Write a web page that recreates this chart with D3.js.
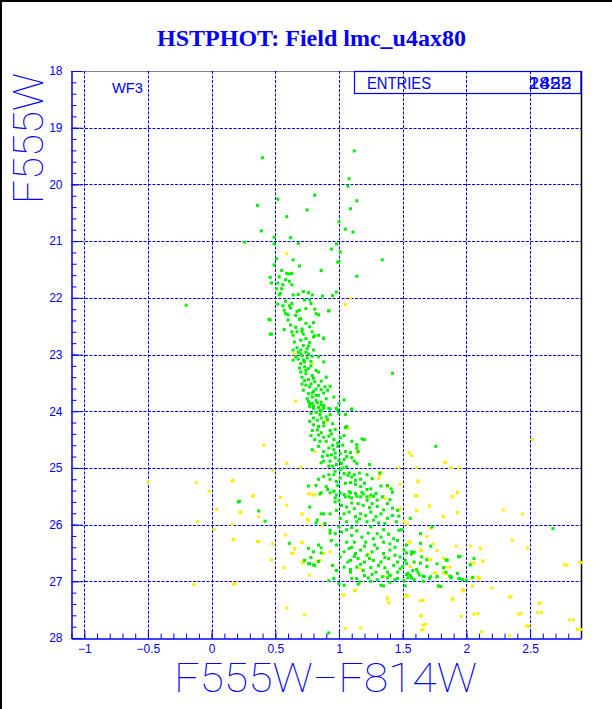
<!DOCTYPE html>
<html>
<head>
<meta charset="utf-8">
<script src="https://cdn.jsdelivr.net/npm/d3@7"></script>
<style>
  html, body { margin: 0; padding: 0; background: #fff; }
  svg { display: block; }
</style>
</head>
<body>
<script>
// ---------------- DATA ----------------
const title = "HSTPHOT: Field lmc_u4ax80";
const xLabel = "F555W\u2212F814W";
const yLabel = "F555W";
const chipLabel = "WF3";
const entriesLabel = "ENTRIES";
const entriesValues = ["1822", "2455"];
const xTicks = [-1, -0.5, 0, 0.5, 1, 1.5, 2, 2.5];
const xTickLabels = ["\u22121", "\u22120.5", "0", "0.5", "1", "1.5", "2", "2.5"];
const yTicks = [18, 19, 20, 21, 22, 23, 24, 25, 26, 27, 28];
const xDomain = [-1.1, 2.9];
const yDomain = [18, 28];

// green stars: [F555W-F814W, F555W]
const greenStars = [
[0.40,19.53],[1.12,19.41],[1.08,19.9],[1.07,20.03],[0.52,20.26],[0.81,20.19],[0.36,20.37],[1.14,20.29],[1.09,20.43],[0.75,20.45],[0.59,20.57],[1.0,20.66],[0.39,20.82],[1.05,20.79],[1.11,20.84],[0.62,20.94],[0.49,20.93],[0.26,21.02],[0.49,21.05],[0.68,21.04],[0.98,21.05],[0.94,21.14],[1.01,21.19],[0.51,21.31],[1.34,21.33],[0.64,21.33],[0.99,21.37],[0.49,21.42],[0.69,21.44],[0.86,21.52],[1.14,21.62],[-0.2,22.13],
[0.55,21.52],[0.59,21.57],[0.61,21.58],[0.63,21.57],[0.46,21.64],[0.53,21.63],[0.58,21.68],[0.61,21.71],[0.47,21.74],[0.52,21.74],[0.56,21.77],[0.63,21.77],[0.51,21.84],[0.55,21.84],[0.54,21.92],[0.53,21.95],[0.64,21.95],[0.68,21.94],[0.72,21.89],[0.76,21.91],[0.79,21.95],[0.87,21.97],[0.95,21.96],[0.98,21.9],
[0.73,22.04],[0.77,22.04],[0.58,22.06],[0.63,22.10],[0.52,22.11],[0.56,22.14],[0.61,22.14],[0.57,22.22],[0.62,22.18],[0.67,22.24],[0.69,22.22],[0.74,22.19],[0.81,22.2],[0.92,22.23],[0.78,22.1],[0.82,22.28],[0.60,22.3],[0.66,22.31],[0.70,22.37],[0.84,22.3],[0.6,22.39],[0.46,22.39],[0.69,22.38],[0.8,22.44],[0.77,22.51],[0.71,22.55],[0.57,22.56],[0.47,22.64],[0.64,22.66],[0.63,22.6],[0.67,22.6],[0.71,22.59],[0.79,22.6],[0.84,22.66],[0.88,22.72],[0.80,22.69],[0.70,22.75],[0.65,22.78],[0.77,22.79],[0.67,22.88],[0.72,22.84],[0.75,22.9],[0.80,22.92],[0.68,22.96],[0.70,22.92],[0.74,22.96],[0.76,22.99],[0.66,23.04],[0.71,23.02],[0.75,23.06],[0.79,23.03],[0.84,23.04],[0.64,23.10],[0.73,23.13],[0.70,23.16],[0.88,23.13],[0.73,23.22],[0.76,23.25],[0.82,23.28],[0.7,23.31],[0.74,23.34],[0.79,23.37],[0.84,23.31],[0.90,23.4],[0.71,23.4],[0.76,23.44],[0.81,23.48],[0.86,23.47],[0.71,23.52],[0.74,23.54],[0.77,23.57],[0.82,23.61],[0.89,23.57],[0.93,23.56],[0.72,23.63],[0.76,23.69],[0.79,23.68],[0.84,23.72],[0.88,23.68],[0.91,23.63],[0.75,23.78],[0.79,23.75],[0.82,23.81],[0.86,23.84],[0.96,23.75],[1.0,23.87],[0.77,23.87],[0.80,23.91],[0.84,23.93],[0.88,23.9],[0.93,23.96],[0.98,23.95],[1.04,23.8],[1.0,21.37],[0.45,22.38],[0.46,22.64],[0.92,22.23],[0.88,22.71],[0.81,22.67],[1.42,23.33],
[0.68,23.08],[0.72,23.1],[0.78,23.12],[0.69,23.24],[0.78,23.2],[0.74,23.28],[0.8,23.42],[0.73,23.46],[0.78,23.52],[0.84,23.55],[0.8,23.65],[0.86,23.62],[0.82,23.72],[0.9,23.78],[0.85,23.98],[0.74,22.72],[0.62,22.48],[0.66,22.52],[0.74,22.45],[0.58,22.28],[0.72,22.64],[0.76,22.85],[0.64,22.92],[0.7,22.99],
[0.76,23.83],[0.79,23.86],[0.83,23.85],[0.86,23.89],[0.77,23.92],[0.80,23.95],[0.88,23.95],[0.92,23.95],[0.99,23.98],[1.1,23.96],
[0.78,24.04],[0.82,24.02],[0.85,24.06],[0.8,24.12],[0.86,24.12],[0.93,24.06],[1.0,24.04],[1.05,24.06],[0.77,24.18],[0.83,24.16],[0.88,24.2],[0.91,24.15],
[0.8,24.24],[0.84,24.27],[0.88,24.26],[0.83,24.33],[0.79,24.34],[0.93,24.34],[0.97,24.32],[1.06,24.27],
[0.78,24.43],[0.84,24.42],[0.88,24.46],[0.92,24.44],[0.96,24.5],[1.01,24.47],[1.1,24.53],[1.04,24.43],[0.85,24.53],[0.9,24.53],[0.81,24.5],[1.14,24.59],[1.18,24.49],
[0.79,24.68],[0.84,24.62],[0.88,24.71],[0.92,24.65],[0.96,24.68],[0.99,24.62],[0.97,24.74],[1.01,24.75],[1.05,24.71],[1.09,24.73],[0.91,24.78],[0.94,24.77],[0.87,24.8],[1.1,24.82],[1.12,24.88],[1.14,24.92],[1.04,24.85],[0.88,24.88],[0.93,24.88],[0.97,24.82],[1.0,24.87],[0.98,24.94],[0.92,24.97],[0.95,24.97],[1.24,24.94],[0.86,24.91],
[1.01,25.03],[1.03,25.0],[1.08,25.09],[1.07,25.13],[0.97,25.06],[0.92,25.12],[0.88,25.15],[0.84,25.2],[0.93,25.2],[1.01,25.18],[1.1,25.16],[1.12,25.12],[1.16,25.09],[1.17,25.2],[1.22,25.12],[1.26,25.19],
[0.76,25.32],[0.82,25.31],[0.9,25.33],[0.99,25.31],[1.05,25.27],[1.09,25.26],[1.13,25.29],[1.17,25.33],[1.22,25.38],[1.25,25.37],[1.33,25.32],[1.41,25.37],[0.86,25.44],[0.91,25.38],[0.96,25.41],[1.04,25.47],[1.09,25.44],[1.18,25.43],[1.22,25.51],[1.27,25.5],[0.97,25.53],[1.08,25.51],[1.14,25.5],[1.76,24.62],
[1.1,23.97],[1.05,24.29],[1.14,24.65],[1.2,24.5],[1.15,24.71],[1.32,25.09],[1.38,25.31],[1.42,25.43],[1.42,25.71],[1.47,25.85],[1.49,26.09],[1.53,26.5],[1.94,26.56],[2.03,26.71],
[0.86,24.0],[0.9,24.1],[0.95,24.22],[0.86,24.38],[0.94,24.4],[0.99,24.56],[0.95,24.6],[1.03,24.6],[1.06,24.8],[1.02,24.92],[1.06,24.98],[0.96,25.12],[1.04,25.1],[1.13,25.22],[0.98,25.24],[1.2,25.27],
[0.96,25.41],[0.98,25.48],[1.01,25.44],[1.05,25.51],[1.08,25.42],[1.1,25.53],[1.13,25.45],[1.17,25.51],[1.15,25.63],[1.19,25.66],[1.22,25.57],[1.25,25.48],[1.26,25.63],[1.3,25.68],[1.34,25.51],[1.38,25.63],[1.4,25.56],[1.46,25.75],[0.97,25.6],[1.02,25.66],[1.06,25.69],[1.12,25.72],[1.19,25.46],[1.29,25.45],[1.3,25.57],[0.85,25.46],[0.86,25.81],[0.83,25.92],[0.93,25.44],
[0.98,25.75],[1.04,25.81],[1.08,25.78],[1.13,25.86],[1.17,25.81],[1.21,25.84],[1.25,25.78],[1.29,25.86],[1.33,25.81],[1.38,25.89],[1.42,25.84],[1.45,25.95],[1.14,25.95],[1.06,25.95],[1.22,25.95],[1.31,25.97],[1.01,25.89],[0.93,25.81],[0.89,25.98],[0.82,25.97],[0.77,25.69],[0.88,25.81],
[0.93,26.1],[0.97,26.16],[1.02,26.13],[1.06,26.09],[1.1,26.19],[1.14,26.11],[1.18,26.22],[1.23,26.15],[1.27,26.25],[1.3,26.16],[1.35,26.09],[1.39,26.17],[1.43,26.25],[1.47,26.1],[1.12,26.31],[1.06,26.31],[1.21,26.31],[1.35,26.31],[1.4,26.34],[1.46,26.28],[0.94,26.28],[0.98,26.36],[0.84,26.36],[0.8,26.48],[0.76,26.42],[1.57,26.48],[1.51,26.45],
[1.04,26.48],[1.08,26.42],[1.13,26.51],[1.17,26.45],[1.22,26.54],[1.26,26.48],[1.3,26.42],[1.35,26.51],[1.4,26.45],[1.44,26.54],[1.48,26.57],[1.01,26.57],[1.09,26.63],[1.15,26.6],[1.2,26.66],[1.27,26.63],[1.33,26.66],[1.39,26.6],[1.46,26.66],[1.52,26.63],[1.59,26.66],[1.65,26.57],[1.85,26.63],[1.94,26.57],[1.77,26.69],[0.73,26.63],[0.77,26.69],[0.81,26.72],[0.98,26.81],[0.95,26.72],
[1.04,26.75],[1.09,26.79],[1.14,26.75],[1.19,26.81],[1.25,26.76],[1.29,26.84],[1.36,26.76],[1.38,26.84],[1.4,26.89],[1.46,26.84],[1.48,26.78],[1.54,26.86],[1.58,26.81],[1.63,26.89],[1.67,26.92],[1.71,26.95],[1.77,26.92],[1.84,26.84],[1.88,26.94],[1.93,26.86],[1.97,26.97],[1.14,26.95],[1.23,26.94],[1.3,26.97],[1.38,26.94],[1.46,26.95],[1.54,26.94],[1.59,26.97],[1.1,26.95],[0.96,26.95],[1.04,27.07],[1.15,27.05],[1.4,27.02],[1.51,26.99],
[0.22,25.59],[0.42,25.94],[0.61,26.33],[0.78,26.58],[0.84,26.65],[0.8,26.71],[0.76,26.69],[0.86,26.5],[0.86,26.41],[0.93,26.15],[0.98,26.81],[0.92,26.99],[1.0,27.04],[1.09,26.84],[1.16,27.01],[1.25,27.0],[1.35,27.08],[1.4,26.9],[1.56,26.9],[1.66,27.0],[1.77,26.92],[1.87,26.91],[1.95,26.95],[2.0,26.98],[1.64,26.16],
[2.68,26.07],[2.06,26.6],[2.05,26.93],[1.8,27.09],[1.94,26.95],[1.88,26.92],[1.82,26.76],[1.95,26.56],[1.84,26.62],[1.73,26.04],[1.53,26.36],[1.57,26.52],[1.59,26.49],[1.64,26.68],[1.69,26.62],[1.53,26.69],[1.61,26.79],[1.66,26.91],[1.72,26.92],[1.53,26.88],[1.57,26.94],[1.69,26.74],[1.72,26.38],[1.64,26.33],[1.56,25.89],
[0.92,27.91],[1.52,27.08],[1.78,27.08],[1.33,27.07],[0.21,25.6],[0.37,25.76],
[1.0,25.58],[1.1,25.62],[1.24,25.7],[1.35,25.74],[1.16,25.9],[1.27,25.92],[1.36,25.98],[1.0,26.04],[1.1,26.05],[1.25,26.04],[1.33,26.22],[1.2,26.38],[1.28,26.36],[1.44,26.4],[1.1,26.4],[1.12,26.56],[1.24,26.6],[1.36,26.58],[1.31,26.72],[1.43,26.72],[1.17,26.7],[1.07,26.66],[1.5,26.74],[1.62,26.84],[1.34,26.92],[1.44,26.97],[1.2,26.9],[1.26,26.88]
];

// yellow stars: [F555W-F814W, F555W]
const yellowStars = [
[0.59,21.22],[1.09,22.01],[1.05,22.12],[0.65,22.99],[0.79,23.15],[0.66,23.82],[0.9,24.18],[1.07,24.3],[1.14,24.73],[0.81,24.71],[1.14,24.65],[1.33,25.08],[1.32,25.13],[1.31,25.19],[1.48,25.29],[1.62,25.23],[1.38,25.33],[0.77,25.45],[0.8,25.47],[0.59,24.92],[1.55,24.73],[1.57,24.78],[1.83,24.9],[1.61,25.0],[1.47,25.0],[0.7,24.99],[1.35,25.51],[1.61,25.49],
[0.76,25.46],[0.81,25.48],[1.24,25.51],[1.36,25.54],[1.48,25.72],[1.61,25.5],[1.71,25.68],[1.89,25.51],[1.93,25.44],[1.93,25.79],[1.82,25.86],[1.61,25.76],[0.71,25.82],[0.75,25.91],[0.65,26.42],[0.71,26.32],[0.63,26.51],[1.51,25.95],[1.54,26.0],[1.72,26.07],[1.56,26.31],[1.64,26.45],[1.69,26.6],[0.88,26.51],[0.85,26.63],[0.71,26.66],[0.93,26.48],[1.23,26.52],[1.35,26.91],[1.17,26.78],[1.56,26.74],[1.84,26.75],[2.03,26.38],[2.11,26.42],[2.06,26.68],[2.13,26.64],[2.1,26.97],[1.75,26.85],
[0.17,25.22],[0.23,25.78],[0.33,25.49],[0.54,25.52],[0.59,25.66],[0.48,25.05],[0.41,24.6],[0.17,26.26],[0.37,26.3],[0.48,26.34],[0.58,26.18],[0.47,26.62],[0.65,26.43],[0.64,26.51],[0.57,26.76],[0.71,26.31],[0.72,26.68],[0.76,25.92],[0.71,25.81],[0.87,26.01],[0.83,26.65],[0.77,26.89],[0.18,27.04],[1.04,27.24],[1.13,27.16],[1.38,27.29],[1.53,27.25],[1.89,27.3],[1.98,27.16],[2.05,27.08],[2.09,26.93],[1.79,27.1],[1.82,26.85],[1.87,26.75],
[2.52,24.5],[1.84,24.91],[1.88,25.0],[1.94,25.0],[1.62,25.25],[1.6,25.49],[1.93,25.43],[1.89,25.5],[1.71,25.67],[1.61,25.75],[1.82,25.86],[1.93,25.79],[2.29,25.74],[2.44,25.81],[2.36,26.28],[2.48,26.41],[2.79,26.71],[2.9,26.67],[2.13,26.65],[2.11,26.42],[1.69,26.21],[1.74,26.34],[1.55,26.3],[1.65,26.46],[1.72,26.62],[1.77,26.46],[1.92,26.38],[1.82,26.59],[1.84,26.87],[1.76,26.85],[2.1,26.93],[1.97,27.15],[2.2,27.12],[2.35,27.27],[2.58,27.38],[1.89,27.33],[1.54,27.26],[1.66,27.34],[2.09,27.57],[2.43,27.57],[2.59,27.55],[2.84,27.68],[1.96,27.62],[1.65,27.61],[1.68,27.76],[2.49,27.79],[2.9,27.85],[1.66,27.85],
[-0.14,27.06],[0.17,27.05],[0.59,27.47],[0.73,27.59],[1.05,27.83],[1.17,27.82],[1.03,27.24],[1.12,27.17],[1.38,27.31],[1.39,27.38],[1.52,27.26],[1.64,27.34],[1.64,27.61],[1.66,27.77],[1.65,27.86],[2.06,27.58],[2.34,27.28],[2.41,27.58],[2.47,27.79],[2.34,27.96],[2.57,27.39],[2.56,27.55],[2.81,27.68],[2.87,27.85],[2.77,26.71],[2.89,26.67],[2.12,27.89],[1.97,27.17],[2.04,26.68],[2.04,26.95],[0.47,26.62],
[-0.5,25.25],[-0.12,25.26],[0.16,25.23],[-0.02,25.41],[0.32,25.5],[0.04,25.73],[0.22,25.79],[0.37,25.86],[-0.11,25.95],[0.16,26.0],[0.02,26.08],[0.17,26.27],[0.36,26.3]
];

// ---------------- DRAWING ----------------
const W = 612, H = 709;
const BLUE = "#0000ff";
const svg = d3.select("body").append("svg").attr("width", W).attr("height", H)
  .style("background", "#fff");

// outer border (left + top)
svg.append("line").attr("x1", 1).attr("x2", 1).attr("y1", 0).attr("y2", H).attr("stroke", "#000").attr("stroke-width", 2);
svg.append("line").attr("x1", 0).attr("x2", W).attr("y1", 1).attr("y2", 1).attr("stroke", "#000").attr("stroke-width", 2);

const x = d3.scaleLinear().domain(xDomain).range([71.5, 581]);
const y = d3.scaleLinear().domain(yDomain).range([71, 638]);

// title
svg.append("text").attr("x", 311.5).attr("y", 46).attr("text-anchor", "middle")
  .attr("font-family", "'Liberation Serif', 'Times New Roman', serif").attr("font-weight", "bold")
  .attr("font-size", 24).attr("fill", BLUE).text(title);

// grid
const grid = svg.append("g").attr("stroke", BLUE).attr("stroke-width", 1).attr("stroke-dasharray", "3,1.5");
grid.selectAll("line.h").data(yTicks.filter(v => v > yDomain[0] && v < yDomain[1])).join("line")
  .attr("x1", x.range()[0]).attr("x2", x.range()[1])
  .attr("y1", d => Math.round(y(d)) + 0.5).attr("y2", d => Math.round(y(d)) + 0.5);
grid.selectAll("line.v").data(xTicks).join("line")
  .attr("y1", y.range()[0]).attr("y2", y.range()[1])
  .attr("x1", d => Math.round(x(d)) + 0.5).attr("x2", d => Math.round(x(d)) + 0.5);

// top (dotted) and right frame
svg.append("line").attr("x1", x.range()[0]).attr("x2", x.range()[1]).attr("y1", 71.5).attr("y2", 71.5)
  .attr("stroke", "#000040").attr("stroke-dasharray", "1,1");
svg.append("line").attr("x1", 581.5).attr("x2", 581.5).attr("y1", 71).attr("y2", 638.5)
  .attr("stroke", "#000").attr("stroke-width", 1.5);

// ENTRIES box
svg.append("rect").attr("x", 354.5).attr("y", 71.5).attr("width", 581 - 354.5).attr("height", 22)
  .attr("fill", "none").attr("stroke", BLUE).attr("stroke-width", 1.2);
svg.append("text").attr("x", 367).attr("y", 88.5).attr("font-family", "'Liberation Sans', Arial, sans-serif")
  .attr("font-size", 16).attr("fill", BLUE).attr("textLength", 64).attr("lengthAdjust", "spacingAndGlyphs").text(entriesLabel);
entriesValues.forEach(v => {
  svg.append("text").attr("x", 528.5).attr("y", 88.5).attr("font-family", "'Liberation Sans', Arial, sans-serif")
    .attr("font-size", 16).attr("fill", BLUE).attr("textLength", 43).attr("lengthAdjust", "spacingAndGlyphs").text(v);
});

// chip label
svg.append("text").attr("x", 112).attr("y", 93).attr("font-family", "'Liberation Sans', Arial, sans-serif")
  .attr("font-size", 15).attr("fill", BLUE).attr("textLength", 31).attr("lengthAdjust", "spacingAndGlyphs").text(chipLabel);

// points
const sz = 3;
svg.append("g").selectAll("rect").data(yellowStars).join("rect")
  .attr("x", d => x(d[0]) - sz / 2).attr("y", d => y(d[1]) - sz / 2)
  .attr("width", sz).attr("height", sz).attr("fill", "#ffee00");
svg.append("g").selectAll("rect").data(greenStars).join("rect")
  .attr("x", d => x(d[0]) - sz / 2).attr("y", d => y(d[1]) - sz / 2)
  .attr("width", sz).attr("height", sz).attr("fill", "#00ee00");

// axes
const yMinor = d3.range(18, 28.001, 0.2).map(v => +v.toFixed(1));
const xMinor = d3.range(-1.1, 2.9001, 0.1).map(v => +v.toFixed(1));

const yAxisG = svg.append("g").attr("transform", "translate(71.5,0)").attr("color", BLUE)
  .call(d3.axisLeft(y).tickValues(yTicks).tickSize(-11).tickSizeOuter(0).tickPadding(9).tickFormat(d3.format("d")));
const yMinorG = svg.append("g").attr("transform", "translate(71.5,0)").attr("color", BLUE)
  .call(d3.axisLeft(y).tickValues(yMinor).tickSize(-5).tickSizeOuter(0).tickFormat(""));
yMinorG.select(".domain").remove();
yMinorG.selectAll("text").remove();

const xAxisG = svg.append("g").attr("transform", "translate(0,638.5)").attr("color", BLUE)
  .call(d3.axisBottom(x).tickValues(xTicks).tickSize(-8).tickSizeOuter(0).tickPadding(6)
    .tickFormat((d, i) => xTickLabels[i]));
const xMinorG = svg.append("g").attr("transform", "translate(0,638.5)").attr("color", BLUE)
  .call(d3.axisBottom(x).tickValues(xMinor).tickSize(-5).tickSizeOuter(0).tickFormat(""));
xMinorG.select(".domain").remove();
xMinorG.selectAll("text").remove();

[yAxisG, xAxisG].forEach(g => {
  g.selectAll("text").attr("font-family", "'Liberation Sans', Arial, sans-serif").attr("font-size", 12).attr("fill", BLUE);
  g.select(".domain").attr("stroke-width", 1.5);
});

// axis titles
svg.append("text").attr("x", 325.5).attr("y", 692).attr("text-anchor", "middle")
  .attr("font-family", "Roboto, Lato, Inter, sans-serif").attr("font-weight", 100)
  .attr("font-size", 40).attr("fill", BLUE).attr("textLength", 303).attr("lengthAdjust", "spacingAndGlyphs").text(xLabel);
svg.append("text").attr("transform", "translate(43,138.5) rotate(-90)").attr("text-anchor", "middle")
  .attr("font-family", "Roboto, Lato, Inter, sans-serif").attr("font-weight", 100)
  .attr("font-size", 42).attr("fill", BLUE).attr("textLength", 131).attr("lengthAdjust", "spacingAndGlyphs").text(yLabel);
</script>
</body>
</html>
